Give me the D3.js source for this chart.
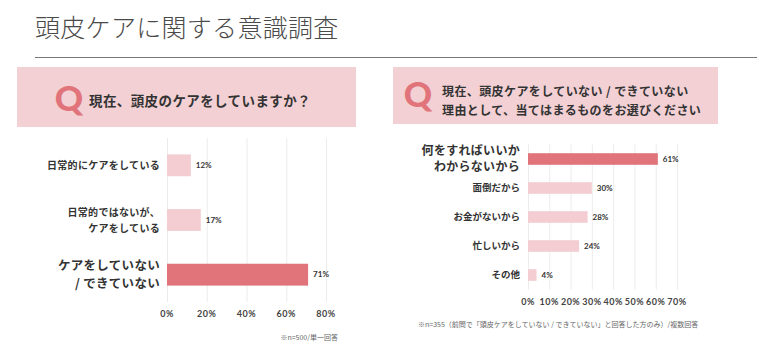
<!DOCTYPE html>
<html>
<head>
<meta charset="utf-8">
<title>頭皮ケアに関する意識調査</title>
<style>
  body { margin: 0; background: #fff; }
  svg { display: block; font-family: "Noto Sans CJK JP", sans-serif; }
  .grid line { stroke: #ececec; stroke-width: 1; }
  .tick-label { font-family: Lato, "Noto Sans CJK JP", sans-serif; font-size: 9px; font-weight: 700; fill: #444; letter-spacing: 0.5px; }
  .val { font-family: Lato, "Noto Sans CJK JP", sans-serif; font-size: 8px; font-weight: 700; fill: #333; }
  .cat { font-weight: 700; fill: #333; }
  .note { font-size: 7px; fill: #666; }
</style>
</head>
<body>
<svg id="chart" width="780" height="361"></svg>
<script src="https://cdn.jsdelivr.net/npm/d3@7"></script>
<script>
// left chart: 現在、頭皮のケアをしていますか？
var careCats = ['日常的にケアをしている', '日常的ではないが、\nケアをしている', 'ケアをしていない\n/ できていない'];
var careVals = [12, 17, 71];
var careTicks = [0, 20, 40, 60, 80];

// right chart: reasons
var reasonCats = ['何をすればいいか\nわからないから', '面倒だから', 'お金がないから', '忙しいから', 'その他'];
var reasonVals = [61, 30, 28, 24, 4];
var reasonTicks = [0, 10, 20, 30, 40, 50, 60, 70];

var pinkLight = '#f3cdd1';
var pinkStrong = '#e0747a';
var boxColor = '#f2d0d3';

var svg = d3.select('#chart');

// title + rule
svg.append('text')
  .attr('x', 35).attr('y', 37)
  .style('font-size', '25px')
  .style('font-weight', 300)
  .style('fill', '#4a4a4a')
  .style('letter-spacing', '0.3px')
  .text('頭皮ケアに関する意識調査');

svg.append('line')
  .attr('x1', 35).attr('x2', 757)
  .attr('y1', 57.5).attr('y2', 57.5)
  .attr('stroke', '#777').attr('stroke-width', 1);

// question boxes
function questionBox(x, y, w, h, qx, qy, lines, tx, ty, fs, lh, ls) {
  svg.append('rect')
    .attr('x', x).attr('y', y).attr('width', w).attr('height', h)
    .attr('fill', boxColor);
  svg.append('text')
    .attr('x', qx).attr('y', qy)
    .attr('text-anchor', 'middle')
    .style('font-family', 'Lato, sans-serif')
    .style('font-weight', 900)
    .style('font-size', '35px')
    .style('fill', pinkStrong)
    .text('Q');
  var t = svg.append('text')
    .attr('x', tx).attr('y', ty)
    .style('font-size', fs + 'px')
    .style('font-weight', 700)
    .style('fill', '#333')
    .style('letter-spacing', ls + 'px');
  lines.forEach(function(s, i) {
    t.append('tspan').attr('x', tx).attr('dy', i ? lh : 0).text(s);
  });
}

questionBox(17, 67, 339, 60, 69, 111, ['現在、頭皮のケアをしていますか？'], 89, 106, 13.5, 0, 0.4);
questionBox(393, 67, 325, 57, 418, 107, ['現在、頭皮ケアをしていない / できていない', '理由として、当てはまるものをお選びください'], 442, 96, 12, 19, 0.4);

// generic horizontal bar chart
function barChart(cfg) {
  var x = d3.scaleLinear().domain([0, d3.max(cfg.ticks)]).range([cfg.x0, cfg.x1]);
  var y = d3.scaleBand().domain(cfg.cats).range([cfg.y0, cfg.y1])
    .paddingInner(0.6).paddingOuter(0.3);
  var g = svg.append('g');

  g.append('g').attr('class', 'grid')
    .selectAll('line').data(cfg.ticks).enter().append('line')
    .attr('x1', function(d) { return x(d) + 0.5; })
    .attr('x2', function(d) { return x(d) + 0.5; })
    .attr('y1', cfg.y0).attr('y2', cfg.y1);

  g.selectAll('.tick-label').data(cfg.ticks).enter().append('text')
    .attr('class', 'tick-label')
    .attr('x', function(d) { return x(d); })
    .attr('y', cfg.tickY)
    .attr('text-anchor', 'middle')
    .text(function(d) { return d + '%'; });

  g.selectAll('.bar').data(cfg.vals).enter().append('rect')
    .attr('class', 'bar')
    .attr('x', x(0))
    .attr('y', function(d, i) { return y(cfg.cats[i]); })
    .attr('width', function(d) { return x(d) - x(0); })
    .attr('height', y.bandwidth())
    .attr('fill', function(d, i) { return i === cfg.highlight ? pinkStrong : pinkLight; });

  g.selectAll('.val').data(cfg.vals).enter().append('text')
    .attr('class', 'val')
    .attr('x', function(d) { return x(d) + 5; })
    .attr('y', function(d, i) { return y(cfg.cats[i]) + y.bandwidth() / 2; })
    .attr('dy', '0.35em')
    .text(function(d) { return d + '%'; });

  cfg.cats.forEach(function(c, i) {
    var lines = c.split('\n');
    var big = i === cfg.highlight;
    var fs = big ? cfg.bigFont : cfg.smallFont;
    var lh = big ? cfg.bigLine : cfg.smallLine;
    var cy = y(c) + y.bandwidth() / 2;
    var t = g.append('text')
      .attr('class', 'cat')
      .attr('text-anchor', 'end')
      .style('font-size', fs + 'px')
      .style('letter-spacing', big ? '0.3px' : cfg.smallSpacing + 'px');
    lines.forEach(function(s, j) {
      t.append('tspan')
        .attr('x', cfg.labelX)
        .attr('y', cy + (j - (lines.length - 1) / 2) * lh)
        .attr('dy', '0.35em')
        .text(s);
    });
  });
}

barChart({
  cats: careCats, vals: careVals, ticks: careTicks, highlight: 2,
  x0: 167, x1: 326, y0: 138, y1: 302, tickY: 317, labelX: 160,
  smallFont: 10, smallLine: 16, smallSpacing: 0.3, bigFont: 12.5, bigLine: 18
});

barChart({
  cats: reasonCats, vals: reasonVals, ticks: reasonTicks, highlight: 0,
  x0: 528, x1: 677, y0: 144.5, y1: 289.5, tickY: 305, labelX: 520,
  smallFont: 9.5, smallLine: 14, smallSpacing: 0, bigFont: 12, bigLine: 16
});

// notes
svg.append('text').attr('class', 'note')
  .attr('x', 338).attr('y', 340).attr('text-anchor', 'end')
  .text('※n=500/単一回答');

svg.append('text').attr('class', 'note')
  .attr('x', 418).attr('y', 327)
  .text('※n=355（前問で「頭皮ケアをしていない / できていない」と回答した方のみ）/複数回答');
</script>
</body>
</html>
